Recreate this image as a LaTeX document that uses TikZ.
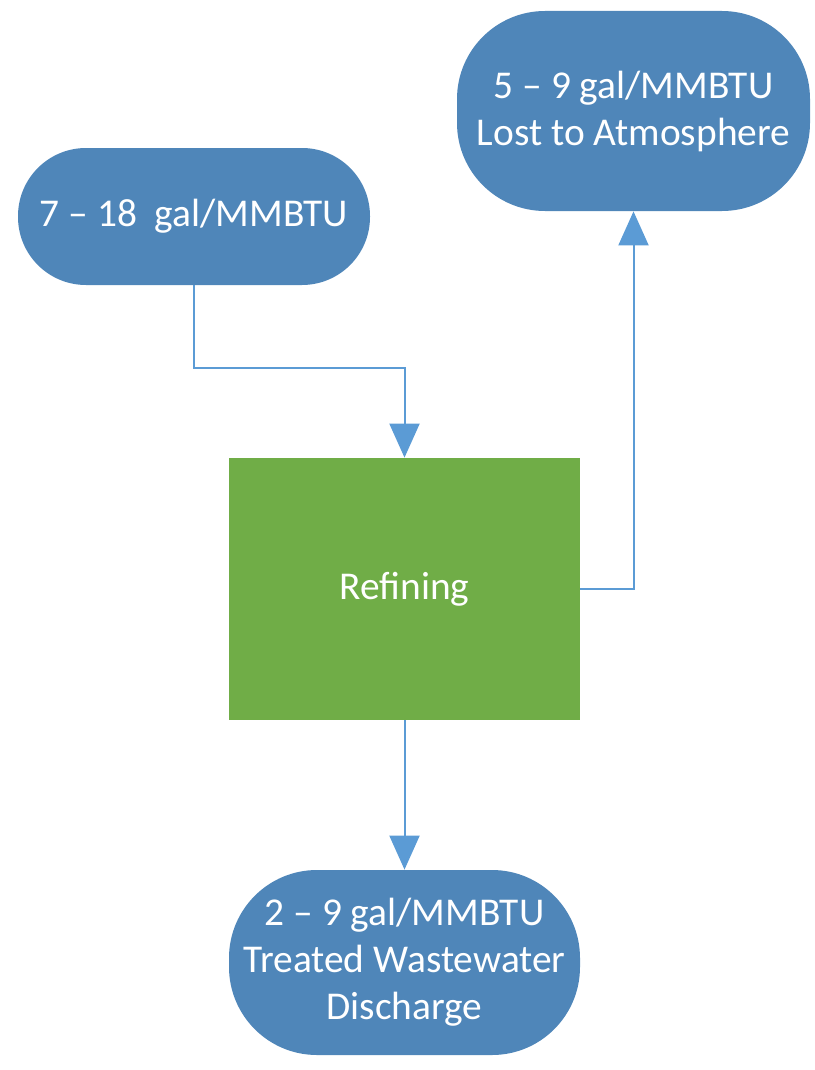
\documentclass[tikz,border=0pt]{standalone}
\usepackage{fontspec}
\setmainfont{Carlito}
\usetikzlibrary{arrows.meta}
\definecolor{pillblue}{RGB}{79,134,185}
\definecolor{boxgreen}{RGB}{112,173,71}
\definecolor{lineblue}{RGB}{91,155,213}
\tikzset{
pill/.style={fill=pillblue, text=white, align=center, inner sep=0pt,
  font=\fontsize{19.7}{23.5}\selectfont},
flow/.style={draw=lineblue, line width=1pt, -{Triangle[width=15pt,length=17pt]}}
}
\begin{document}
\begin{tikzpicture}[x=0.5pt,y=-0.5pt]
\useasboundingbox (0,0) rectangle (814,1070);

\node [pill, minimum width=176pt, minimum height=68.5pt, rounded corners=34pt]
  (source) at (194,216.5) {7 – 18\ \ gal/MMBTU};
\node [pill, minimum width=176.5pt, minimum height=100pt, rounded corners=44pt]
  (lost) at (633.5,111) {5 – 9 gal/MMBTU\\Lost to Atmosphere};
\node [pill, fill=boxgreen, minimum width=175.5pt, minimum height=131pt]
  (refining) at (404.5,589) {Refining};
\node [pill, minimum width=175.5pt, minimum height=92.5pt, rounded corners=44pt]
  (discharge) at (404.5,962.5) {2 – 9 gal/MMBTU\\Treated Wastewater\\Discharge};

\draw [flow] (source.south) -- ++(0,83) -| (refining.north);
\draw [flow] (refining.east) -| (lost.south);
\draw [flow] (refining.south) -- (discharge.north);
\end{tikzpicture}
\end{document}
